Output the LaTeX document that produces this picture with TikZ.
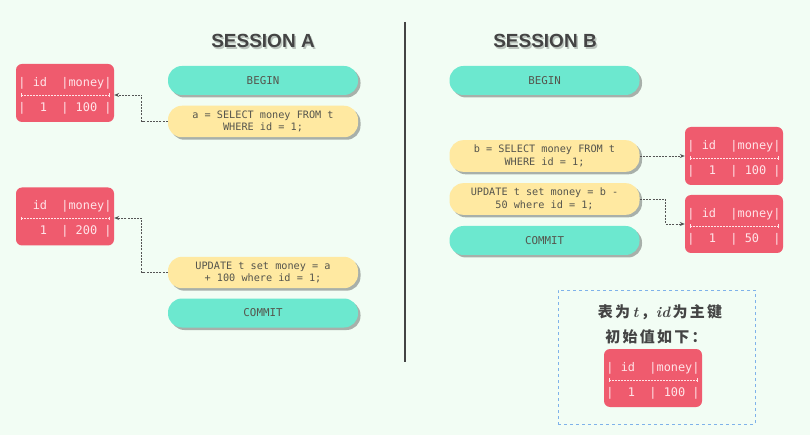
\documentclass[tikz,border=0pt]{standalone}
\usepackage{fontspec}
\setmonofont{DejaVu Sans Mono}
\newfontfamily\titlefont{Liberation Sans}
\newfontfamily\cjk{Noto Sans CJK SC}[LetterSpace=15]
\usetikzlibrary{shadows,arrows.meta}
\definecolor{bg}{HTML}{F2FDF4}
\definecolor{teal}{HTML}{6CE8CF}
\definecolor{yel}{HTML}{FFE9A1}
\definecolor{tred}{HTML}{EF5B6E}
\definecolor{ttxt}{HTML}{FFE4E8}
\definecolor{ptxt}{HTML}{55554D}
\definecolor{divc}{HTML}{444444}
\definecolor{connc}{HTML}{555555}
\definecolor{boxc}{HTML}{7FB2EA}
\tikzset{
  pill/.style={rectangle, rounded corners=14pt, minimum width=190pt, minimum height=29pt,
    align=center, text=ptxt, inner xsep=4pt, inner ysep=5pt,
    font=\ttfamily\fontsize{10.2}{12.5}\selectfont,
    drop shadow={shadow xshift=2.5pt, shadow yshift=-2.5pt, opacity=0.3, fill=black}},
  pillT/.style={pill, fill=teal, font=\ttfamily\fontsize{10.8}{12.5}\selectfont},
  pillY/.style={pill, fill=yel},
  tbl/.style={rectangle, rounded corners=6pt, fill=tred, minimum width=98pt, minimum height=58pt, inner sep=0pt},
  tbltxt/.style={text=ttxt, inner sep=0pt, font=\ttfamily\fontsize{11.9}{13}\selectfont},
  sepl/.style={ttxt, line width=0.8pt, dash pattern=on 2pt off 1pt},
  conn/.style={connc, line width=0.8pt, dash pattern=on 2pt off 1.2pt, -{Stealth[length=5pt,width=4pt]}},
  ttl/.style={font=\titlefont\bfseries\fontsize{19}{22}\selectfont, text=divc, inner sep=0pt},
  ttlsh/.style={font=\titlefont\bfseries\fontsize{19}{22}\selectfont, text=black, opacity=0.22, inner sep=0pt},
  cjktxt/.style={font=\cjk\bfseries\fontsize{15}{18}\selectfont, text=divc, inner sep=0pt},
}
\newcommand\tsp{\hphantom{0}}
\newcommand\dbtbl[4]{%
  \node[tbl] (#1) at (#2) {};
  \node[tbltxt] (#1-r1) at ([yshift=10pt]#1.center) {#3};
  \node[tbltxt] (#1-r2) at ([yshift=-15pt]#1.center) {#4};
  \draw[sepl] ([xshift=5pt,yshift=-2pt]#1.west) -- ([xshift=-5pt,yshift=-2pt]#1.east);
  \draw[ttxt, line width=0.6pt] ([xshift=5pt,yshift=-0.2pt]#1.west) -- ([xshift=5pt,yshift=-3.8pt]#1.west);
  \draw[ttxt, line width=0.6pt] ([xshift=-5pt,yshift=-0.2pt]#1.east) -- ([xshift=-5pt,yshift=-3.8pt]#1.east);
}
\newcommand\itx[1]{{\rmfamily\itshape #1}}
\begin{document}
\begin{tikzpicture}[x=1pt,y=-1pt]
\path[fill=bg, use as bounding box] (0,0) rectangle (810,435);

% titles
\node[ttlsh] (tAs) at (264.5,42.5) {SESSION A};
\node[ttl] (tA) at (263,41) {SESSION A};
\node[ttlsh] (tBs) at (546.5,42.5) {SESSION B};
\node[ttl] (tB) at (545,41) {SESSION B};

% divider
\coordinate (d1) at (405,22);
\coordinate (d2) at (405,362);
\draw[divc, line width=2pt] (d1) -- (d2);

% session A
\node[pillT] (beginA) at (263,80.5) {BEGIN};
\node[pillY] (selA) at (263,121.5) {a = SELECT money FROM t\\WHERE id = 1;};
\node[pillY] (updA) at (263,272.5) {UPDATE t set money = a\\+ 100 where id = 1;};
\node[pillT] (comA) at (263,313) {COMMIT};

% session B
\node[pillT] (beginB) at (544.5,80.5) {BEGIN};
\node[pillY] (selB) at (544.5,156) {b = SELECT money FROM t\\WHERE id = 1;};
\node[pillY] (updB) at (544.5,199) {UPDATE t set money = b -\\50 where id = 1;};
\node[pillT] (comB) at (544.5,240.5) {COMMIT};

% tables
\dbtbl{t1}{65,93}{|\tsp id\tsp\tsp|money|}{|\tsp\tsp1\tsp\tsp|\tsp100\tsp|}
\dbtbl{t2}{65,216.5}{\tsp\tsp id\tsp\tsp|money|}{\tsp\tsp\tsp1\tsp\tsp|\tsp200\tsp|}
\dbtbl{t3}{734,156}{|\tsp id\tsp\tsp|money|}{|\tsp\tsp1\tsp\tsp|\tsp100\tsp|}
\dbtbl{t4}{734,224}{|\tsp id\tsp\tsp|money|}{|\tsp\tsp1\tsp\tsp|\tsp50\tsp\tsp|}

% connectors
\draw[conn] (selA.west) -- ++(-26,0) |- ([yshift=-2pt]t1.east);
\draw[conn] (updA.west) -- ++(-26,0) |- ([yshift=-1.5pt]t2.east);
\draw[conn] (selB.east) -- (t3.west);
\draw[conn] (updB.east) -- ++(26,0) |- (t4.west);

% info box
\node[draw=boxc, dashed, line width=0.8pt, minimum width=197pt, minimum height=134pt] (info) at (656.5,357) {};
\node[cjktxt] (l1) at (660,312) {表为\,\itx{t}\,，\itx{id}\,为主键};
\node[cjktxt] (l2) at (656,337) {初始值如下：};
\dbtbl{t5}{653,378}{|\tsp id\tsp\tsp|money|}{|\tsp\tsp1\tsp\tsp|\tsp100\tsp|}
\end{tikzpicture}
\end{document}
